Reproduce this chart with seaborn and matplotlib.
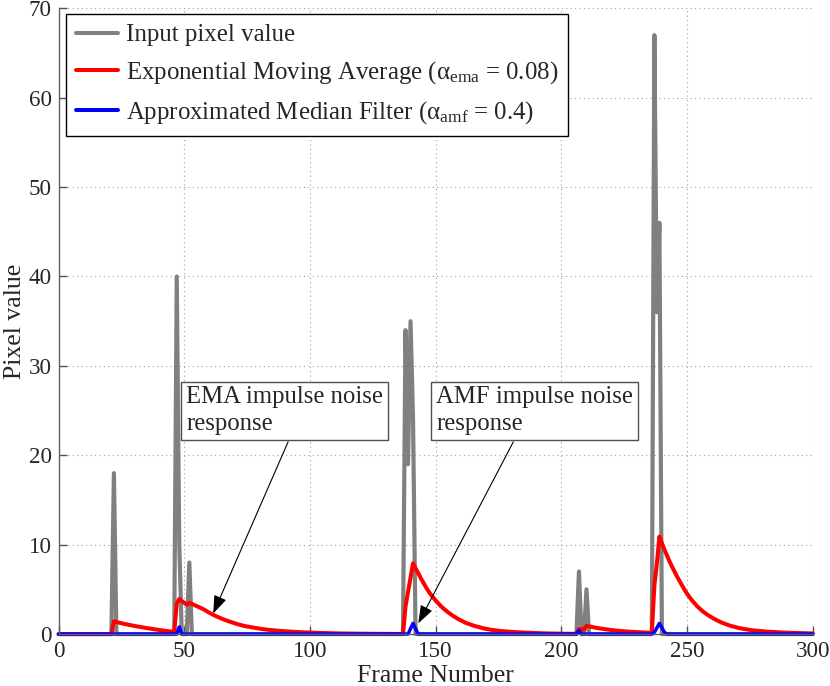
import matplotlib
matplotlib.use("Agg")
import matplotlib.pyplot as plt
from matplotlib.lines import Line2D
import seaborn as sns
import pandas as pd

# ---- data ----
frames_in = [0, 21, 22, 23, 46, 47, 48, 49, 51, 52, 53, 137, 138, 139, 140, 141, 142,
             206, 207, 208, 209, 210, 211, 236, 237, 238, 239, 240, 300]
vals_in = [0, 0, 18, 0, 0, 40, 10, 0, 0, 8, 0, 0, 34, 19, 35, 24, 0,
           0, 7, 0, 0, 5, 0, 0, 67, 36, 46, 0, 0]

frames_ema = [0, 21, 22, 24, 26, 28, 30, 34, 38, 42, 46,
              47, 48, 49, 50, 51, 52, 53, 54, 55, 56, 57, 58, 59, 60, 62, 64, 66, 68,
              71, 74, 78, 81, 84, 88, 91, 95, 100, 105, 110, 120, 130, 137,
              138, 139, 140, 141, 142, 143, 144, 145, 146, 147, 148, 149, 150, 151, 152,
              153, 155, 157, 159, 162, 165, 169, 172, 176, 181, 186, 192, 198, 206,
              207, 208, 209, 210, 214, 218, 222, 226, 230, 234, 236,
              237, 238, 239, 240, 241, 242, 243, 244, 245, 246, 247, 248, 249, 250, 251,
              252, 254, 256, 258, 260, 262, 264, 267, 271, 276, 282, 290, 300]
vals_ema = [0, 0, 1.43, 1.28, 1.15, 1.03, 0.92, 0.72, 0.54, 0.38, 0.24,
            3.4, 3.93, 3.7, 3.5, 3.28, 3.5, 3.38, 3.25, 3.12, 2.99, 2.86, 2.72, 2.55,
            2.38, 2.08, 1.83, 1.6, 1.4,
            1.12, 0.9, 0.7, 0.56, 0.46, 0.36, 0.3, 0.23, 0.17, 0.12, 0.08, 0.04, 0.02,
            0.01,
            3.07, 4.7, 6.3, 7.92, 7.35, 6.85, 6.3, 5.8, 5.3, 4.85, 4.45, 4.1, 3.75, 3.45,
            3.15,
            2.88, 2.42, 2.02, 1.68, 1.25, 0.95, 0.64, 0.48, 0.34, 0.23, 0.16, 0.09, 0.05,
            0.02,
            0.57, 0.53, 0.5, 0.92, 0.69, 0.52, 0.38, 0.29, 0.22, 0.16, 0.14,
            5.4, 7.9, 10.9, 10.15, 9.45, 8.8, 8.15, 7.55, 7.0, 6.45, 5.95, 5.45, 4.95,
            4.52, 4.12,
            3.76, 3.12, 2.6, 2.18, 1.83, 1.52, 1.26, 0.95, 0.65, 0.42, 0.27, 0.15, 0.07]

frames_amf = [0, 47, 48, 49, 139, 140, 141, 142, 143, 206, 207, 208,
              236, 237, 238, 239, 240, 241, 242, 300]
vals_amf = [0, 0, 0.8, 0, 0, 0.6, 1.2, 0.6, 0, 0, 0.4, 0,
            0, 0.2, 0.7, 1.2, 0.7, 0.2, 0, 0]

series_labels = ["Input pixel value",
                 r"Exponential Moving Average ($\mathrm{α}_{\mathrm{ema}}$ = 0.08)",
                 r"Approximated Median Filter ($\mathrm{α}_{\mathrm{amf}}$ = 0.4)"]
series_colors = ["#808080", "#ff0000", "#0000ff"]

x_ticks = [0, 50, 100, 150, 200, 250, 300]
y_ticks = [0, 10, 20, 30, 40, 50, 60, 70]

ema_note = "EMA impulse noise\nresponse"
amf_note = "AMF impulse noise\nresponse"

# ---- style ----
sns.set_style("white")
plt.rcParams["font.family"] = ["Liberation Serif", "DejaVu Serif"]
plt.rcParams["mathtext.fontset"] = "custom"
plt.rcParams["mathtext.rm"] = "Liberation Serif"
plt.rcParams["mathtext.it"] = "Liberation Serif:italic"
plt.rcParams["mathtext.bf"] = "Liberation Serif:bold"

df_in = pd.DataFrame({"frame": frames_in, "value": vals_in})
df_ema = pd.DataFrame({"frame": frames_ema, "value": vals_ema})
df_amf = pd.DataFrame({"frame": frames_amf, "value": vals_amf})

fig = plt.figure(figsize=(8.3, 6.86), dpi=100)
ax = fig.add_axes([0.0706, 0.0757, 0.9086, 0.9122])

for df, col, lwi in [(df_in, series_colors[0], 3.0), (df_ema, series_colors[1], 2.9),
                     (df_amf, series_colors[2], 2.5)]:
    sns.lineplot(data=df, x="frame", y="value", color=col, linewidth=lwi, ax=ax,
                 legend=False, sort=False, estimator=None)
for ln in ax.lines:
    ln.set_clip_on(False)
    ln.set_solid_joinstyle("round")

ax.set_xlim(0, 300)
ax.set_ylim(0, 70)
ax.set_xticks(x_ticks)
ax.set_yticks(y_ticks)
ax.set_xlabel("Frame Number", fontsize=18.5, labelpad=2)
ax.set_ylabel("Pixel value", fontsize=18.5, labelpad=2)

ax.grid(True, linestyle=(0, (1, 3)), color="#a0a0a0", linewidth=0.8)
for s in ["top", "right"]:
    ax.spines[s].set_visible(False)
for s in ["left", "bottom"]:
    ax.spines[s].set_color("#606060")
    ax.spines[s].set_linewidth(1.0)
ax.tick_params(direction="in", length=5.5, width=1.0, color="#505050",
               labelsize=16.6, pad=5, bottom=True, left=True)

handles = [Line2D([], [], color=c, linewidth=2.9) for c in series_colors]
leg = ax.legend(handles, series_labels, loc="upper left", bbox_to_anchor=(0.0098, 0.991),
                borderaxespad=0, frameon=True, fancybox=False, edgecolor="black",
                framealpha=1, fontsize=17.9, handlelength=1.7, handletextpad=0.3,
                borderpad=0.4, labelspacing=0.52)
leg.get_frame().set_linewidth(1.0)

box_kw = dict(boxstyle="square,pad=0.2", fc="white", ec="#505050", lw=1.0)
ax.text(89.9, 25.0, ema_note, ha="center", va="center", multialignment="left",
        fontsize=17.8, bbox=box_kw, linespacing=1.25)
ax.text(189.4, 25.0, amf_note, ha="center", va="center", multialignment="left",
        fontsize=17.8, bbox=box_kw, linespacing=1.25)

arrow_kw = dict(arrowstyle="-|>,head_length=0.55,head_width=0.2", color="black",
                lw=0.8, shrinkA=0, shrinkB=0, mutation_scale=20)
ax.annotate("", xy=(61.5, 2.3), xytext=(91.3, 21.5), arrowprops=arrow_kw)
ax.annotate("", xy=(143.1, 1.2), xytext=(180.9, 21.5), arrowprops=arrow_kw)

fig.savefig("out.png", dpi=100)
